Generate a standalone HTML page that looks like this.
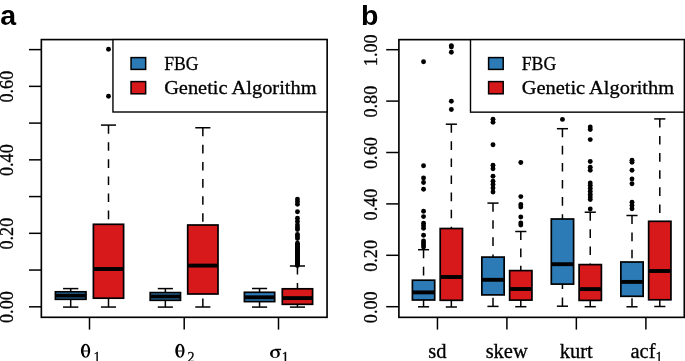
<!DOCTYPE html><html><head><meta charset="utf-8"><style>html,body{margin:0;padding:0;background:#fff;}body{width:685px;height:361px;overflow:hidden;}svg{display:block;will-change:transform;}text{font-family:"Liberation Serif",serif;fill:#000;stroke:#000;stroke-width:0.3px;}.lg{font-size:19.5px;}.yl{font-size:18.2px;}.xl{font-size:20.5px;}.sub{font-size:14px;}.pl{font-family:"Liberation Sans",sans-serif;font-weight:bold;font-size:28.5px;stroke:none;}</style></head><body>
<svg width="685" height="361" viewBox="0 0 685 361">
<rect width="685" height="361" fill="#fff"/>
<g stroke="#000" stroke-width="1.5"><line x1="29" y1="306.8" x2="41.35" y2="306.8"/><line x1="29" y1="270.06" x2="41.35" y2="270.06"/><line x1="29" y1="233.32" x2="41.35" y2="233.32"/><line x1="29" y1="196.58" x2="41.35" y2="196.58"/><line x1="29" y1="159.84" x2="41.35" y2="159.84"/><line x1="29" y1="123.1" x2="41.35" y2="123.1"/><line x1="29" y1="86.36" x2="41.35" y2="86.36"/><line x1="29" y1="49.62" x2="41.35" y2="49.62"/><line x1="89.5" y1="317.3" x2="89.5" y2="329.6"/><line x1="184.2" y1="317.3" x2="184.2" y2="329.6"/><line x1="278.5" y1="317.3" x2="278.5" y2="329.6"/></g>
<text class="yl" text-anchor="middle" transform="translate(13.1 307.1) rotate(-90)">0.00</text>
<text class="yl" text-anchor="middle" transform="translate(13.1 233.62) rotate(-90)">0.20</text>
<text class="yl" text-anchor="middle" transform="translate(13.1 160.14) rotate(-90)">0.40</text>
<text class="yl" text-anchor="middle" transform="translate(13.1 86.66) rotate(-90)">0.60</text>
<g stroke="#000" stroke-width="1.5" fill="none"><line x1="70.7" y1="288.6" x2="70.7" y2="291.8" stroke-dasharray="8.6 8.5"/><line x1="70.7" y1="307.1" x2="70.7" y2="299.3" stroke-dasharray="8.6 8.5"/><line x1="63.05" y1="288.6" x2="78.35" y2="288.6"/><line x1="63.05" y1="307.1" x2="78.35" y2="307.1"/></g>
<rect x="55.4" y="291.8" width="30.6" height="7.5" fill="#2c7bb6" stroke="#000" stroke-width="1.7"/>
<line x1="55.7" y1="295.6" x2="85.7" y2="295.6" stroke="#000" stroke-width="3.9"/>
<g stroke="#000" stroke-width="1.5" fill="none"><line x1="108.5" y1="125.1" x2="108.5" y2="224.3" stroke-dasharray="8.6 8.5"/><line x1="108.5" y1="307.05" x2="108.5" y2="298.2" stroke-dasharray="8.6 8.5"/><line x1="100.95" y1="125.1" x2="116.05" y2="125.1"/><line x1="100.95" y1="307.05" x2="116.05" y2="307.05"/></g>
<rect x="93.4" y="224.3" width="30.2" height="73.9" fill="#d7191c" stroke="#000" stroke-width="1.7"/>
<line x1="93.7" y1="269" x2="123.3" y2="269" stroke="#000" stroke-width="3.9"/>
<g fill="#000"><circle cx="108.5" cy="49.3" r="2.45"/><circle cx="108.5" cy="96.2" r="2.45"/></g>
<g stroke="#000" stroke-width="1.5" fill="none"><line x1="165.35" y1="288.6" x2="165.35" y2="292.6" stroke-dasharray="8.6 8.5"/><line x1="165.35" y1="307.1" x2="165.35" y2="300.3" stroke-dasharray="8.6 8.5"/><line x1="157.78" y1="288.6" x2="172.92" y2="288.6"/><line x1="157.78" y1="307.1" x2="172.92" y2="307.1"/></g>
<rect x="150.2" y="292.6" width="30.3" height="7.7" fill="#2c7bb6" stroke="#000" stroke-width="1.7"/>
<line x1="150.5" y1="296.5" x2="180.2" y2="296.5" stroke="#000" stroke-width="3.9"/>
<g stroke="#000" stroke-width="1.5" fill="none"><line x1="202.85" y1="127.75" x2="202.85" y2="225" stroke-dasharray="8.6 8.5"/><line x1="202.85" y1="307" x2="202.85" y2="294" stroke-dasharray="8.6 8.5"/><line x1="195.28" y1="127.75" x2="210.42" y2="127.75"/><line x1="195.28" y1="307" x2="210.42" y2="307"/></g>
<rect x="187.7" y="225" width="30.3" height="69" fill="#d7191c" stroke="#000" stroke-width="1.7"/>
<line x1="188" y1="265.6" x2="217.7" y2="265.6" stroke="#000" stroke-width="3.9"/>
<g stroke="#000" stroke-width="1.5" fill="none"><line x1="259.55" y1="288.5" x2="259.55" y2="292.3" stroke-dasharray="8.6 8.5"/><line x1="259.55" y1="307.1" x2="259.55" y2="301.6" stroke-dasharray="8.6 8.5"/><line x1="251.98" y1="288.5" x2="267.12" y2="288.5"/><line x1="251.98" y1="307.1" x2="267.12" y2="307.1"/></g>
<rect x="244.4" y="292.3" width="30.3" height="9.3" fill="#2c7bb6" stroke="#000" stroke-width="1.7"/>
<line x1="244.7" y1="297.3" x2="274.4" y2="297.3" stroke="#000" stroke-width="3.9"/>
<g stroke="#000" stroke-width="1.5" fill="none"><line x1="297.45" y1="266" x2="297.45" y2="288.8" stroke-dasharray="8.6 8.5"/><line x1="297.45" y1="307.1" x2="297.45" y2="304.3" stroke-dasharray="8.6 8.5"/><line x1="289.88" y1="266" x2="305.02" y2="266"/><line x1="289.88" y1="307.1" x2="305.02" y2="307.1"/></g>
<rect x="282.3" y="288.8" width="30.3" height="15.5" fill="#d7191c" stroke="#000" stroke-width="1.7"/>
<line x1="282.6" y1="298.1" x2="312.3" y2="298.1" stroke="#000" stroke-width="3.9"/>
<g fill="#000"><circle cx="297.45" cy="199.1" r="2.45"/><circle cx="297.45" cy="201.6" r="2.45"/><circle cx="297.45" cy="204.3" r="2.45"/><circle cx="297.45" cy="211.7" r="2.45"/><circle cx="297.45" cy="218.2" r="2.45"/><circle cx="297.45" cy="221.5" r="2.45"/><circle cx="297.45" cy="225" r="2.45"/><circle cx="297.45" cy="227.5" r="2.45"/><circle cx="297.45" cy="229.6" r="2.45"/><circle cx="297.45" cy="234.4" r="2.45"/><circle cx="297.45" cy="236.5" r="2.45"/><circle cx="297.45" cy="238.6" r="2.45"/><circle cx="297.45" cy="243.2" r="2.45"/><circle cx="297.45" cy="244.5" r="2.45"/><circle cx="297.45" cy="245.5" r="2.45"/><circle cx="297.45" cy="246.5" r="2.45"/><circle cx="297.45" cy="247.5" r="2.45"/><circle cx="297.45" cy="248.5" r="2.45"/><circle cx="297.45" cy="249.5" r="2.45"/><circle cx="297.45" cy="250.5" r="2.45"/><circle cx="297.45" cy="251.5" r="2.45"/><circle cx="297.45" cy="252.5" r="2.45"/><circle cx="297.45" cy="253.5" r="2.45"/><circle cx="297.45" cy="254.5" r="2.45"/><circle cx="297.45" cy="255.5" r="2.45"/><circle cx="297.45" cy="256.5" r="2.45"/><circle cx="297.45" cy="257.5" r="2.45"/><circle cx="297.45" cy="258.5" r="2.45"/><circle cx="297.45" cy="259.5" r="2.45"/><circle cx="297.45" cy="260.5" r="2.45"/><circle cx="297.45" cy="261.5" r="2.45"/><circle cx="297.45" cy="262.5" r="2.45"/><circle cx="297.45" cy="263.5" r="2.45"/><circle cx="297.45" cy="264.5" r="2.45"/><circle cx="297.45" cy="265.5" r="2.45"/></g>
<rect x="41.35" y="39.6" width="285.7" height="277.7" fill="none" stroke="#000" stroke-width="1.65"/>
<rect x="112.95" y="39.6" width="214.1" height="72.4" fill="#fff" stroke="#000" stroke-width="1.4"/>
<rect x="131.05" y="57.6" width="14.6" height="11.8" fill="#2c7bb6" stroke="#000" stroke-width="1.5"/>
<rect x="131.05" y="81.6" width="14.6" height="12.2" fill="#d7191c" stroke="#000" stroke-width="1.5"/>
<text x="164.15" y="69.9" class="lg" textLength="34.5" lengthAdjust="spacingAndGlyphs">FBG</text>
<text x="164.15" y="94.3" class="lg" textLength="152.4" lengthAdjust="spacingAndGlyphs">Genetic Algorithm</text>
<path d="M80.9 350.75 a4.65 7.05 0 1 0 9.3 0 a4.65 7.05 0 1 0 -9.3 0Z M83.5 350.85 a2.25 5.85 0 1 0 4.5 0 a2.25 5.85 0 1 0 -4.5 0Z" fill="#000" fill-rule="evenodd"/>
<rect x="83.35" y="350.55" width="4.6" height="0.9" fill="#000"/>
<text class="sub" x="93.4" y="362.3">1</text>
<path d="M175.25 350.75 a4.65 7.05 0 1 0 9.3 0 a4.65 7.05 0 1 0 -9.3 0Z M177.85 350.85 a2.25 5.85 0 1 0 4.5 0 a2.25 5.85 0 1 0 -4.5 0Z" fill="#000" fill-rule="evenodd"/>
<rect x="177.7" y="350.55" width="4.6" height="0.9" fill="#000"/>
<text class="sub" x="187.5" y="362.3">2</text>
<path d="M270.05 353.7 a4.9 4.4 0 1 0 9.8 0 a4.9 4.4 0 1 0 -9.8 0Z M272.6 353.9 a2.45 3.35 0 1 0 4.9 0 a2.45 3.35 0 1 0 -4.9 0Z" fill="#000" fill-rule="evenodd"/>
<path d="M273.95 349.3 L275.45 348.85 L281.2 348.85 L280.9 350.25 L275.95 350.25 Z" fill="#000"/>
<text class="sub" x="281.8" y="362.3">1</text>
<g stroke="#000" stroke-width="1.5"><line x1="386.2" y1="306.7" x2="398.9" y2="306.7"/><line x1="386.2" y1="255.3" x2="398.9" y2="255.3"/><line x1="386.2" y1="203.9" x2="398.9" y2="203.9"/><line x1="386.2" y1="152.5" x2="398.9" y2="152.5"/><line x1="386.2" y1="101.1" x2="398.9" y2="101.1"/><line x1="386.2" y1="49.7" x2="398.9" y2="49.7"/><line x1="437.45" y1="317.35" x2="437.45" y2="329.6"/><line x1="506.9" y1="317.35" x2="506.9" y2="329.6"/><line x1="576.35" y1="317.35" x2="576.35" y2="329.6"/><line x1="645.9" y1="317.35" x2="645.9" y2="329.6"/></g>
<text class="yl" text-anchor="middle" transform="translate(376.9 307.3) rotate(-90)">0.00</text>
<text class="yl" text-anchor="middle" transform="translate(376.9 255.9) rotate(-90)">0.20</text>
<text class="yl" text-anchor="middle" transform="translate(376.9 204.5) rotate(-90)">0.40</text>
<text class="yl" text-anchor="middle" transform="translate(376.9 153.1) rotate(-90)">0.60</text>
<text class="yl" text-anchor="middle" transform="translate(376.9 101.7) rotate(-90)">0.80</text>
<text class="yl" text-anchor="middle" transform="translate(376.9 50.3) rotate(-90)">1.00</text>
<g stroke="#000" stroke-width="1.5" fill="none"><line x1="423.55" y1="249.7" x2="423.55" y2="280.2" stroke-dasharray="8.6 8.5"/><line x1="423.55" y1="306.8" x2="423.55" y2="300" stroke-dasharray="8.6 8.5"/><line x1="417.98" y1="249.7" x2="429.12" y2="249.7"/><line x1="417.98" y1="306.8" x2="429.12" y2="306.8"/></g>
<rect x="412.4" y="280.2" width="22.3" height="19.8" fill="#2c7bb6" stroke="#000" stroke-width="1.7"/>
<line x1="412.7" y1="292.4" x2="434.4" y2="292.4" stroke="#000" stroke-width="3.9"/>
<g fill="#000"><circle cx="423.55" cy="61.7" r="2.45"/><circle cx="423.55" cy="165.8" r="2.45"/><circle cx="423.55" cy="178" r="2.45"/><circle cx="423.55" cy="182.5" r="2.45"/><circle cx="423.55" cy="189.2" r="2.45"/><circle cx="423.55" cy="211.3" r="2.45"/><circle cx="423.55" cy="216.6" r="2.45"/><circle cx="423.55" cy="223.3" r="2.45"/><circle cx="423.55" cy="225.8" r="2.45"/><circle cx="423.55" cy="228.3" r="2.45"/><circle cx="423.55" cy="235.3" r="2.45"/><circle cx="423.55" cy="241" r="2.45"/><circle cx="423.55" cy="243" r="2.45"/><circle cx="423.55" cy="245" r="2.45"/><circle cx="423.55" cy="247" r="2.45"/></g>
<g stroke="#000" stroke-width="1.5" fill="none"><line x1="451.35" y1="124.2" x2="451.35" y2="228.5" stroke-dasharray="8.6 8.5"/><line x1="451.35" y1="307" x2="451.35" y2="300.3" stroke-dasharray="8.6 8.5"/><line x1="445.78" y1="124.2" x2="456.93" y2="124.2"/><line x1="445.78" y1="307" x2="456.93" y2="307"/></g>
<rect x="440.2" y="228.5" width="22.3" height="71.8" fill="#d7191c" stroke="#000" stroke-width="1.7"/>
<line x1="440.5" y1="277" x2="462.2" y2="277" stroke="#000" stroke-width="3.9"/>
<g fill="#000"><circle cx="451.35" cy="45.6" r="2.45"/><circle cx="451.35" cy="47" r="2.45"/><circle cx="451.35" cy="52.2" r="2.45"/><circle cx="451.35" cy="101.2" r="2.45"/><circle cx="451.35" cy="109.5" r="2.45"/></g>
<g stroke="#000" stroke-width="1.5" fill="none"><line x1="493" y1="203.1" x2="493" y2="257.1" stroke-dasharray="8.6 8.5"/><line x1="493" y1="306.4" x2="493" y2="294.9" stroke-dasharray="8.6 8.5"/><line x1="487.43" y1="203.1" x2="498.57" y2="203.1"/><line x1="487.43" y1="306.4" x2="498.57" y2="306.4"/></g>
<rect x="481.85" y="257.1" width="22.3" height="37.8" fill="#2c7bb6" stroke="#000" stroke-width="1.7"/>
<line x1="482.15" y1="279.8" x2="503.85" y2="279.8" stroke="#000" stroke-width="3.9"/>
<g fill="#000"><circle cx="493" cy="119.2" r="2.45"/><circle cx="493" cy="122.3" r="2.45"/><circle cx="493" cy="144.7" r="2.45"/><circle cx="493" cy="165.3" r="2.45"/><circle cx="493" cy="168.8" r="2.45"/><circle cx="493" cy="176.3" r="2.45"/><circle cx="493" cy="181.2" r="2.45"/><circle cx="493" cy="184.5" r="2.45"/><circle cx="493" cy="188" r="2.45"/><circle cx="493" cy="192" r="2.45"/></g>
<g stroke="#000" stroke-width="1.5" fill="none"><line x1="520.8" y1="231.5" x2="520.8" y2="270.6" stroke-dasharray="8.6 8.5"/><line x1="520.8" y1="306.7" x2="520.8" y2="300.1" stroke-dasharray="8.6 8.5"/><line x1="515.22" y1="231.5" x2="526.38" y2="231.5"/><line x1="515.22" y1="306.7" x2="526.38" y2="306.7"/></g>
<rect x="509.65" y="270.6" width="22.3" height="29.5" fill="#d7191c" stroke="#000" stroke-width="1.7"/>
<line x1="509.95" y1="289" x2="531.65" y2="289" stroke="#000" stroke-width="3.9"/>
<g fill="#000"><circle cx="520.8" cy="162.5" r="2.45"/><circle cx="520.8" cy="196.6" r="2.45"/><circle cx="520.8" cy="204.5" r="2.45"/><circle cx="520.8" cy="207" r="2.45"/><circle cx="520.8" cy="217" r="2.45"/><circle cx="520.8" cy="223" r="2.45"/><circle cx="520.8" cy="225" r="2.45"/></g>
<g stroke="#000" stroke-width="1.5" fill="none"><line x1="562.45" y1="128.7" x2="562.45" y2="219" stroke-dasharray="8.6 8.5"/><line x1="562.45" y1="306.2" x2="562.45" y2="284.1" stroke-dasharray="8.6 8.5"/><line x1="556.88" y1="128.7" x2="568.03" y2="128.7"/><line x1="556.88" y1="306.2" x2="568.03" y2="306.2"/></g>
<rect x="551.3" y="219" width="22.3" height="65.1" fill="#2c7bb6" stroke="#000" stroke-width="1.7"/>
<line x1="551.6" y1="264.2" x2="573.3" y2="264.2" stroke="#000" stroke-width="3.9"/>
<g fill="#000"><circle cx="562.45" cy="119.4" r="2.45"/></g>
<g stroke="#000" stroke-width="1.5" fill="none"><line x1="590.25" y1="212.2" x2="590.25" y2="264.6" stroke-dasharray="8.6 8.5"/><line x1="590.25" y1="306.7" x2="590.25" y2="300.4" stroke-dasharray="8.6 8.5"/><line x1="584.67" y1="212.2" x2="595.83" y2="212.2"/><line x1="584.67" y1="306.7" x2="595.83" y2="306.7"/></g>
<rect x="579.1" y="264.6" width="22.3" height="35.8" fill="#d7191c" stroke="#000" stroke-width="1.7"/>
<line x1="579.4" y1="289.1" x2="601.1" y2="289.1" stroke="#000" stroke-width="3.9"/>
<g fill="#000"><circle cx="590.25" cy="127" r="2.45"/><circle cx="590.25" cy="129.5" r="2.45"/><circle cx="590.25" cy="139.6" r="2.45"/><circle cx="590.25" cy="161.5" r="2.45"/><circle cx="590.25" cy="167.3" r="2.45"/><circle cx="590.25" cy="170.3" r="2.45"/><circle cx="590.25" cy="183" r="2.45"/><circle cx="590.25" cy="185.5" r="2.45"/><circle cx="590.25" cy="188.5" r="2.45"/><circle cx="590.25" cy="191.5" r="2.45"/><circle cx="590.25" cy="194.5" r="2.45"/><circle cx="590.25" cy="197" r="2.45"/><circle cx="590.25" cy="199.5" r="2.45"/><circle cx="590.25" cy="209" r="2.45"/></g>
<g stroke="#000" stroke-width="1.5" fill="none"><line x1="632" y1="215.5" x2="632" y2="262" stroke-dasharray="8.6 8.5"/><line x1="632" y1="306.8" x2="632" y2="296.3" stroke-dasharray="8.6 8.5"/><line x1="626.42" y1="215.5" x2="637.58" y2="215.5"/><line x1="626.42" y1="306.8" x2="637.58" y2="306.8"/></g>
<rect x="620.85" y="262" width="22.3" height="34.3" fill="#2c7bb6" stroke="#000" stroke-width="1.7"/>
<line x1="621.15" y1="281.9" x2="642.85" y2="281.9" stroke="#000" stroke-width="3.9"/>
<g fill="#000"><circle cx="632" cy="160.2" r="2.45"/><circle cx="632" cy="162.2" r="2.45"/><circle cx="632" cy="170.2" r="2.45"/><circle cx="632" cy="179" r="2.45"/><circle cx="632" cy="183.8" r="2.45"/><circle cx="632" cy="202.3" r="2.45"/><circle cx="632" cy="205.5" r="2.45"/><circle cx="632" cy="208.8" r="2.45"/></g>
<g stroke="#000" stroke-width="1.5" fill="none"><line x1="659.8" y1="118.9" x2="659.8" y2="221.3" stroke-dasharray="8.6 8.5"/><line x1="659.8" y1="306.5" x2="659.8" y2="299.8" stroke-dasharray="8.6 8.5"/><line x1="654.22" y1="118.9" x2="665.38" y2="118.9"/><line x1="654.22" y1="306.5" x2="665.38" y2="306.5"/></g>
<rect x="648.65" y="221.3" width="22.3" height="78.5" fill="#d7191c" stroke="#000" stroke-width="1.7"/>
<line x1="648.95" y1="271" x2="670.65" y2="271" stroke="#000" stroke-width="3.9"/>
<rect x="398.9" y="39.65" width="285.4" height="277.7" fill="none" stroke="#000" stroke-width="1.65"/>
<rect x="470.5" y="39.65" width="213.8" height="72.5" fill="#fff" stroke="#000" stroke-width="1.4"/>
<rect x="488.6" y="57.6" width="14.6" height="11.8" fill="#2c7bb6" stroke="#000" stroke-width="1.5"/>
<rect x="488.6" y="81.6" width="14.6" height="12.2" fill="#d7191c" stroke="#000" stroke-width="1.5"/>
<text x="521.7" y="69.9" class="lg" textLength="34.5" lengthAdjust="spacingAndGlyphs">FBG</text>
<text x="521.7" y="94.3" class="lg" textLength="152.4" lengthAdjust="spacingAndGlyphs">Genetic Algorithm</text>
<text class="xl" x="437.3" y="358.3" text-anchor="middle">sd</text>
<text class="xl" x="506.7" y="358.3" text-anchor="middle">skew</text>
<text class="xl" x="576.3" y="358.3" text-anchor="middle">kurt</text>
<text class="xl" x="630.5" y="358.3">acf</text><text class="sub" x="655.4" y="362.3">1</text>
<text class="pl" x="0.2" y="25.1">a</text>
<text class="pl" x="361.0" y="24.9">b</text>
</svg></body></html>
